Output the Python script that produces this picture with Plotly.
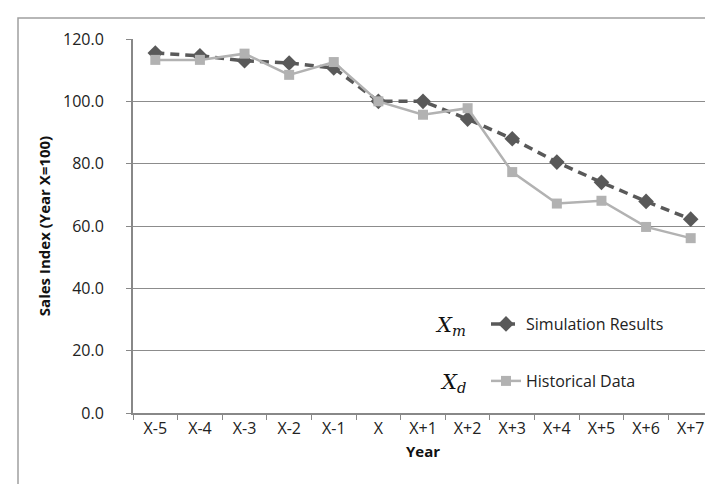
import plotly.graph_objects as go

years = ["X-5", "X-4", "X-3", "X-2", "X-1", "X", "X+1", "X+2", "X+3", "X+4", "X+5", "X+6", "X+7"]
simulation = [115.5, 114.6, 113.0, 112.3, 110.7, 100.0, 100.0, 94.3, 88.0, 80.5, 74.0, 67.9, 62.2]
historical = [113.3, 113.3, 115.3, 108.5, 112.6, 100.0, 95.7, 97.8, 77.3, 67.2, 68.1, 59.7, 56.1]
y_ticks = [0, 20, 40, 60, 80, 100, 120]

W, H = 713, 484
L, R, T, B = 125, 8, 31, 79
pw, ph = W - L - R, H - T - B

def px(x):
    return (x - L) / pw

def py(y):
    return (H - B - y) / ph

font = "Open Sans, Liberation Sans, sans-serif"
fs = 16

fig = go.Figure()
fig.add_trace(go.Scatter(
    x=years, y=simulation, name="Simulation Results", mode="lines+markers",
    line=dict(color="#595959", width=3.5, dash="9px,6px"),
    marker=dict(symbol="diamond", size=12, color="#595959"),
    legend="legend",
))
fig.add_trace(go.Scatter(
    x=years, y=historical, name="Historical Data", mode="lines+markers",
    line=dict(color="#b2b2b2", width=2.5),
    marker=dict(symbol="square", size=10, color="#b2b2b2"),
    legend="legend2",
))

fig.update_layout(
    width=W, height=H,
    margin=dict(l=L, r=R, t=T, b=B),
    paper_bgcolor="white", plot_bgcolor="white",
    font=dict(family=font, size=fs, color="#222"),
    showlegend=True,
    legend=dict(x=px(478), y=py(316), xanchor="left", yanchor="middle",
                bgcolor="rgba(0,0,0,0)", font=dict(size=fs, family=font, color="#222")),
    legend2=dict(x=px(478), y=py(373), xanchor="left", yanchor="middle",
                 bgcolor="rgba(0,0,0,0)", font=dict(size=fs, family=font, color="#222")),
    xaxis=dict(
        type="category", categoryorder="array", categoryarray=years,
        showgrid=False, showline=True, linecolor="#888", linewidth=2,
        ticks="outside", tickson="boundaries", ticklen=5, tickcolor="#888",
        tickfont=dict(size=fs, family=font, color="#222"),
        title=dict(text="<b>Year</b>", font=dict(size=15, family=font, color="#111"), standoff=8),
        range=[-0.5, len(years) - 0.5],
    ),
    yaxis=dict(
        range=[0, 120], tickvals=y_ticks, ticktext=[f"{v:.1f}" for v in y_ticks],
        showgrid=True, gridcolor="#8c8c8c", gridwidth=1,
        showline=True, linecolor="#888", linewidth=2,
        ticks="outside", ticklen=5, tickcolor="#888",
        ticklabelstandoff=19,
        tickfont=dict(size=fs, family=font, color="#222"),
        title=dict(text="<b>Sales Index (Year X=100)</b>", font=dict(size=15, family=font, color="#111"), standoff=9),
        zeroline=False,
    ),
    shapes=[dict(type="rect", xref="paper", yref="paper",
                 x0=px(10), x1=px(W + 20), y0=py(H + 20), y1=py(10),
                 line=dict(color="#a0a0a0", width=1.5), layer="below")],
    annotations=[
        dict(text="<i>X</i><sub><i>m</i></sub>", x=px(460), y=py(318), xref="paper", yref="paper",
             xanchor="right", yanchor="middle", showarrow=False,
             font=dict(family="DejaVu Serif, Liberation Serif, serif", size=21, color="#111")),
        dict(text="<i>X</i><sub><i>d</i></sub>", x=px(460), y=py(375), xref="paper", yref="paper",
             xanchor="right", yanchor="middle", showarrow=False,
             font=dict(family="DejaVu Serif, Liberation Serif, serif", size=21, color="#111")),
    ],
)

fig.write_html("out.html")
